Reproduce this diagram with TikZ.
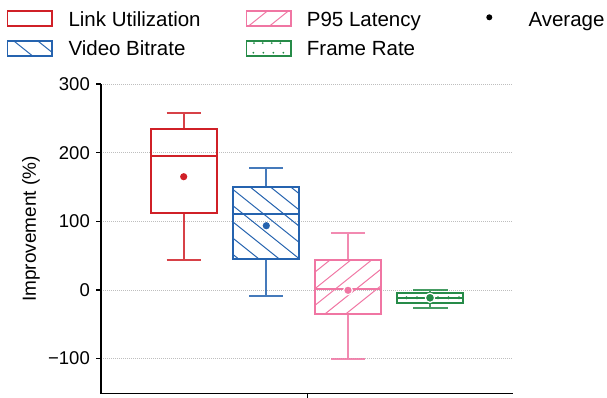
\documentclass[tikz,border=0pt]{standalone}
\usepackage{fontspec}
\setmainfont{Liberation Sans}
\definecolor{cred}{RGB}{208,32,39}
\definecolor{cblue}{RGB}{37,99,175}
\definecolor{cpink}{RGB}{240,118,163}
\definecolor{cgreen}{RGB}{38,139,72}
\definecolor{cgrid}{RGB}{190,190,190}
\begin{document}
\begin{tikzpicture}[x=1pt,y=-1pt,
  gridline/.style={cgrid, line width=0.7pt, dash pattern=on 1pt off 1pt},
  axisline/.style={black, line width=1.3pt},
  boxline/.style={line width=1.9pt},
  whisk/.style={line width=1.8pt, opacity=0.85},
  hatchline/.style={line width=1pt},
  legtext/.style={anchor=base west, inner sep=0pt, font=\fontsize{20.5}{24}\selectfont},
  ticktext/.style={anchor=east, inner sep=0pt, font=\fontsize{18.5}{22}\selectfont},
  legbox/.style={line width=1.6pt}]
\useasboundingbox (0,0) rectangle (607,397);

% grid
\foreach \yy in {84.1,152.7,221.4,290,358.6}{
  \draw[gridline] (101,\yy) -- (512,\yy);
  \draw[axisline] (96,\yy) -- (101,\yy);
}
% tick labels
\node[ticktext] (t300) at (90,84.1) {300};
\node[ticktext] (t200) at (90,152.7) {200};
\node[ticktext] (t100) at (90,221.4) {100};
\node[ticktext] (t0) at (90,290) {0};
\node[ticktext] (tm100) at (90,358.6) {−100};
\node[rotate=90, inner sep=0pt, font=\fontsize{19}{22}\selectfont] (ylab) at (31,229) {Improvement (\%)};

% axes
\draw[axisline] (101,84.1) -- (101,393.3) -- (513.3,393.3);
\draw[axisline] (307.3,393.3) -- (307.3,398);

% ---- Link Utilization (red)
\draw[cred, whisk] (183.7,213.3) -- (183.7,260) (166.7,260) -- (200.7,260)
                   (183.7,129) -- (183.7,113.3) (166.7,113.3) -- (200.7,113.3);
\draw[cred, boxline] (150.7,129) rectangle (216.7,213.3);
\draw[cred, boxline] (150.7,155.7) -- (216.7,155.7);
\fill[cred] (183.7,176.7) circle[radius=3.6pt];

% ---- Video Bitrate (blue)
\draw[cblue, whisk] (266.3,259.3) -- (266.3,296) (249.3,296) -- (282.7,296)
                    (266.3,186.7) -- (266.3,168.3) (249.3,168.3) -- (282.7,168.3);
\begin{scope}
  \clip (233.3,186.7) rectangle (299.3,259.3);
  \foreach \i in {-6,...,3}
    \draw[cblue, hatchline] (249.8+20.3*\i,186.7) -- ++(120,96);
\end{scope}
\draw[cblue, boxline] (233.3,186.7) rectangle (299.3,259.3);
\draw[cblue, boxline] (233.3,214) -- (299.3,214);
\fill[cblue] (266.3,225.7) circle[radius=3.6pt];

% ---- P95 Latency (pink)
\draw[cpink, whisk] (348,314) -- (348,358.6) (331,358.6) -- (365,358.6)
                    (348,260) -- (348,232.7) (331,232.7) -- (365,232.7);
\begin{scope}
  \clip (315,260) rectangle (381,314);
  \foreach \i in {-4,...,4}
    \draw[cpink, hatchline] (330+20.8*\i+100,180) -- (330+20.8*\i-100,340);
\end{scope}
\draw[cpink, boxline] (315,260) rectangle (381,314);
\draw[cpink, boxline] (315,289) -- (381,289);
\fill[cpink, draw=white, line width=1.2pt] (348,290.3) circle[radius=4.4pt];

% ---- Frame Rate (green)
\draw[cgreen, whisk] (430,303.3) -- (430,307.7) (413,307.7) -- (447.7,307.7)
                     (430,293.3) -- (430,290) (413,290) -- (447.7,290);
\draw[cgreen, boxline] (396.7,293.3) rectangle (463.3,303.3);
\draw[cgreen, line width=1.4pt] (396.7,297.8) -- (463.3,297.8);
\foreach \xx in {406.5,417,438,448.5,459}
  \fill[cgreen] (\xx,297.8) circle[radius=1.6pt];
\fill[cgreen, draw=white, line width=1.2pt] (430,297.8) circle[radius=4.6pt];

% ---- Legend
\draw[cred, legbox] (7.3,10.7) rectangle (51.7,25.7);
\begin{scope}
  \clip (7.3,40.7) rectangle (51.7,56);
  \draw[cblue, hatchline] (13.5,40.7) -- ++(25,20);
  \draw[cblue, hatchline] (37.5,40.7) -- ++(25,20);
\end{scope}
\draw[cblue, legbox] (7.3,40.7) rectangle (51.7,56);

\begin{scope}
  \clip (246.5,10.7) rectangle (291,25.7);
  \draw[cpink, hatchline] (249,25.7) -- ++(25,-20);
  \draw[cpink, hatchline] (270,25.7) -- ++(25,-20);
\end{scope}
\draw[cpink, legbox] (246.5,10.7) rectangle (291,25.7);

\foreach \xx in {254,262.7,271.7,280.3}
  \fill[cgreen] (\xx,43.2) circle[radius=1pt];
\foreach \xx in {253.3,263.3,273.3,283.3}
  \fill[cgreen] (\xx,52.7) circle[radius=1pt];
\draw[cgreen, legbox] (246.5,40.7) rectangle (291,56);

\fill[black] (489.3,17.3) circle[radius=3pt];

\node[legtext] (l1) at (68.3,26.7) {Link Utilization};
\node[legtext] (l2) at (68.3,55) {Video Bitrate};
\node[legtext] (l3) at (306.7,26.3) {P95 Latency};
\node[legtext] (l4) at (306.7,55) {Frame Rate};
\node[legtext] (l5) at (528.3,26.3) {Average};
\end{tikzpicture}
\end{document}
